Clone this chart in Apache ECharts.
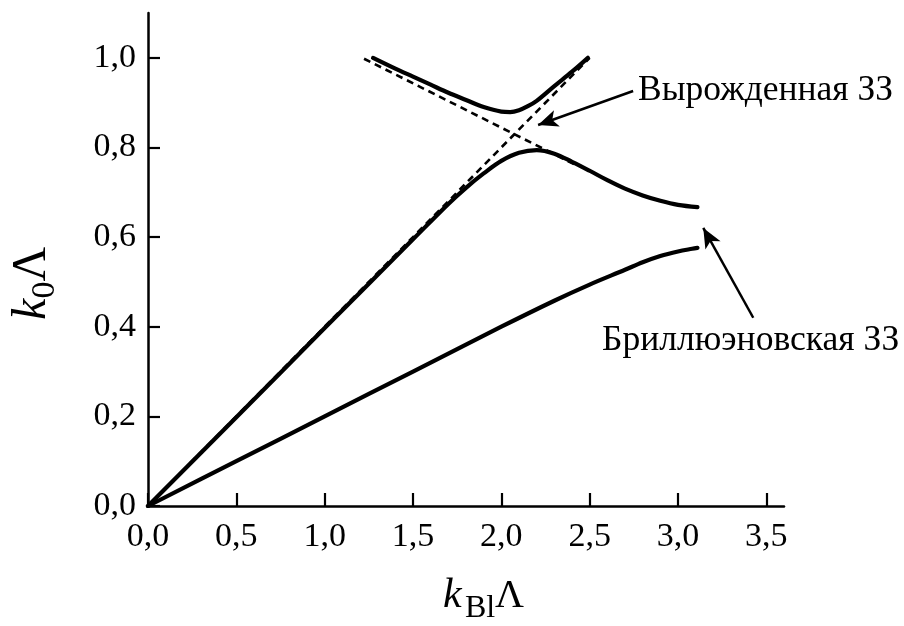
<!DOCTYPE html>
<html>
<head>
<meta charset="utf-8">
<script src="https://cdn.jsdelivr.net/npm/echarts@6/dist/echarts.min.js"></script>
<style>html,body{margin:0;padding:0;background:#fff}#c{width:904px;height:626px}</style>
</head>
<body>
<div id="c"></div>
<script>
const xTicks = [0, 0.5, 1.0, 1.5, 2.0, 2.5, 3.0, 3.5];
const yTicks = [0, 0.2, 0.4, 0.6, 0.8, 1.0];

const brillouinX = [0, 0.5, 1.0, 1.5, 2.0, 2.3, 2.5, 2.7, 2.8, 2.9, 3.0, 3.08, 3.11];
const brillouinY = [0, 0.1, 0.2, 0.3, 0.4, 0.458, 0.494, 0.527, 0.544, 0.558, 0.568, 0.574, 0.576];

const lowerX = [0, 0.5, 1.0, 1.5, 1.7, 1.8, 1.9, 2.0, 2.1, 2.2, 2.3, 2.4, 2.5, 2.6, 2.7, 2.8, 2.9, 3.0, 3.11];
const lowerY = [0, 0.198, 0.397, 0.595, 0.674, 0.71, 0.742, 0.77, 0.788, 0.794, 0.786, 0.768, 0.748, 0.727, 0.708, 0.693, 0.681, 0.672, 0.667];

const upperX = [1.274, 1.4, 1.5, 1.6, 1.7, 1.8, 1.9, 2.0, 2.05, 2.1, 2.15, 2.2, 2.3, 2.4, 2.49];
const upperY = [1.0, 0.976, 0.958, 0.94, 0.922, 0.906, 0.89, 0.88, 0.879, 0.883, 0.892, 0.904, 0.937, 0.969, 1.0];

const dash1X = [0, 2.5];
const dash1Y = [0, 1.0];
const dash2X = [1.223, 2.42];
const dash2Y = [0.998, 0.761];

const arrowDegenerate = [[2.746, 0.926], [2.208, 0.850]];
const arrowBrillouin = [[3.426, 0.420], [3.143, 0.6205]];
const labelDegenerate = 'Вырожденная ЗЗ';
const labelBrillouin = 'Бриллюэновская ЗЗ';
const xTitle = ['k', 'Bl', 'Λ'];
const yTitle = ['k', '0', 'Λ'];

const zip = (xs, ys) => xs.map((x, i) => [x, ys[i]]);
const fmt = v => v.toFixed(1).replace('.', ',');
const FONT = 'Liberation Serif';
const f = (size, italic) => (italic ? 'italic ' : '') + size + 'px "Liberation Serif"';
// place text by its alphabetic baseline (middle-anchored text sits ~0.305em above baseline)
const bt = (text, x, baseline, size, italic) => ({
  type: 'text', x, y: baseline - 0.305 * size, silent: true,
  style: {text, font: f(size, italic), fill: '#000', align: 'left', verticalAlign: 'middle'}
});

const chart = echarts.init(document.getElementById('c'), null, {renderer: 'canvas'});
const solid = (data) => ({
  type: 'line', data, showSymbol: false, smooth: 0.35,
  lineStyle: {color: '#000', width: 4.2, cap: 'round', join: 'round'},
  silent: true, animation: false
});
const dashed = (data) => ({
  type: 'line', data, showSymbol: false,
  lineStyle: {color: '#000', width: 2.6, type: [7, 5]},
  silent: true, animation: false, z: 1
});
const arrowLine = (pts) => ({
  type: 'line', data: [], silent: true, animation: false,
  markLine: {
    silent: true, animation: false,
    symbol: ['none', 'arrow'], symbolSize: [13, 20],
    lineStyle: {color: '#000', width: 2.5, type: 'solid'},
    label: {show: false},
    data: [[{coord: pts[0]}, {coord: pts[1]}]]
  }
});

chart.setOption({
  backgroundColor: '#fff',
  animation: false,
  grid: {left: 148, right: 120, top: 13, bottom: 120, outerBoundsMode: 'none'},
  xAxis: {
    type: 'value', min: 0, max: 3.6,
    axisLine: {lineStyle: {color: '#000', width: 2.5}},
    axisTick: {inside: true, length: 13, lineStyle: {color: '#000', width: 2.2}, customValues: xTicks},
    axisLabel: {color: '#000', fontFamily: FONT, fontSize: 34, margin: 14, formatter: fmt, customValues: xTicks},
    splitLine: {show: false}
  },
  yAxis: {
    type: 'value', min: 0, max: 1.1,
    axisLine: {show: true, lineStyle: {color: '#000', width: 2.5}},
    axisTick: {show: true, inside: true, length: 12, lineStyle: {color: '#000', width: 2.2}, customValues: yTicks},
    axisLabel: {color: '#000', fontFamily: FONT, fontSize: 34, margin: 12, formatter: fmt, customValues: yTicks},
    splitLine: {show: false}
  },
  graphic: [
    {type: 'text', left: 638, top: 73, silent: true, style: {text: labelDegenerate, font: f(35.5), fill: '#000'}},
    {type: 'text', left: 602, top: 323, silent: true, style: {text: labelBrillouin, font: f(35.6), fill: '#000'}},
    {type: 'group', silent: true, children: [
      bt(xTitle[0], 443, 609, 42, true),
      bt(xTitle[1], 465, 618, 32, false),
      bt(xTitle[2], 495, 609, 40, false)
    ]},
    {type: 'group', x: 47, y: 320, rotation: Math.PI / 2, silent: true, children: [
      bt(yTitle[0], 0, 0, 48, true),
      bt(yTitle[1], 21.5, 8, 34, false),
      bt(yTitle[2], 38.5, 0, 48, false)
    ]}
  ],
  series: [
    dashed(zip(dash1X, dash1Y)),
    dashed(zip(dash2X, dash2Y)),
    solid(zip(brillouinX, brillouinY)),
    solid(zip(lowerX, lowerY)),
    solid(zip(upperX, upperY)),
    arrowLine(arrowDegenerate),
    arrowLine(arrowBrillouin)
  ]
});
</script>
</body>
</html>
